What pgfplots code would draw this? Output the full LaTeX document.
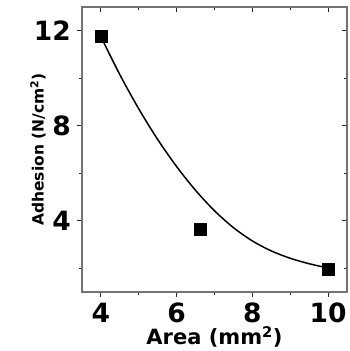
\documentclass[border=0pt]{standalone}
\usepackage{fontspec}
\setmainfont{DejaVu Sans}
\usepackage{pgfplots}
\pgfplotsset{compat=1.18}
\begin{document}
\begin{tikzpicture}
\useasboundingbox (-82pt,-59pt) rectangle (267pt,292pt);
\pgfplotsset{
  common/.style={
    at={(0,0)}, anchor=south west, scale only axis,
    width=265pt, height=285pt,
    xmin=3.5, xmax=10.5, ymin=1, ymax=13,
    xtick={4,6,8,10}, ytick={4,8,12},
    minor xtick={5,7,9}, minor ytick={2,6,10},
    axis line style={black!55, line width=1.6pt},
    major tick length=5pt, minor tick length=3pt,
    every tick/.style={black!85, line width=1pt},
    /pgf/number format/assume math mode=true,
  }
}
\begin{axis}[common,
  xtick pos=bottom, ytick pos=left, tick align=outside,
  ticklabel style={font=\bfseries\fontsize{26.5}{26.5}\selectfont},
  xticklabel style={inner sep=0pt, yshift=-6pt},
  yticklabel style={inner sep=1pt, xshift=-5pt},
  xlabel={\bfseries Area (mm\textsuperscript{2})},
  ylabel={\bfseries Adhesion (N/cm\textsuperscript{2})},
  xlabel style={font=\fontsize{21}{21}\selectfont, inner sep=0pt, at={(axis description cs:0.5,0)}, anchor=center, yshift=-45pt},
  ylabel style={font=\fontsize{15.5}{15.5}\selectfont, at={(axis description cs:0,0.5)}, anchor=center, yshift=44pt},
]
\addplot[black, line width=1.5pt, smooth, tension=0.5] coordinates {
(4,11.75) (4.5,10.15) (5,8.71) (5.5,7.42) (6,6.28) (6.5,5.28) (7,4.42)
(7.5,3.71) (8,3.15) (8.5,2.73) (9,2.42) (9.5,2.19) (10,2.01)
};
\addplot[only marks, mark=square*, mark size=6pt, black] coordinates {
(4,11.75) (6.63,3.66) (10,1.98)
};
\end{axis}
\begin{axis}[common,
  xtick pos=top, ytick pos=right, tick align=inside,
  xticklabels={}, yticklabels={},
]
\end{axis}
\end{tikzpicture}
\end{document}
